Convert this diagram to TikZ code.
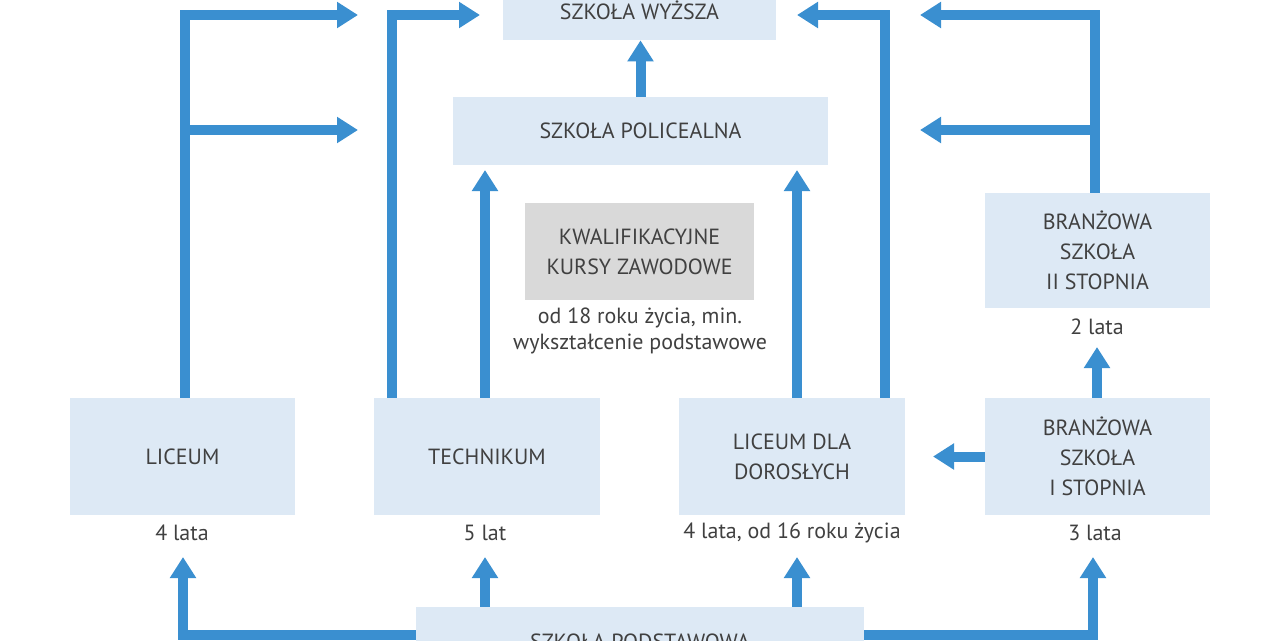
\documentclass[tikz,border=0pt]{standalone}
\usepackage{fontspec}
\setmainfont{PT Sans}
\usetikzlibrary{arrows.meta}
\definecolor{boxblue}{HTML}{DDE9F5}
\definecolor{boxgray}{HTML}{D9D9D9}
\definecolor{arrowblue}{HTML}{3A8FD0}
\definecolor{txt}{HTML}{404040}
\tikzset{
  box/.style={fill=boxblue, text=txt, align=center, font=\fontsize{12.5}{17}\selectfont},
  note/.style={text=txt, align=center, font=\fontsize{12.5}{15}\selectfont},
  flow/.style={draw=arrowblue, line width=0.2cm, -{Triangle[width=0.5cm,length=0.42cm]}}
}
\begin{document}
\begin{tikzpicture}[x=0.02cm, y=-0.02cm]
		\useasboundingbox (0, 0) rectangle (1280, 640);
		
		% szkoly
		\node[box, minimum width=273*0.02cm, minimum height=60*0.02cm] (wyzsza) at (639.5, 10) {SZKOŁA WYŻSZA};
		\node[box, minimum width=375*0.02cm, minimum height=68*0.02cm] (policealna) at (640.5, 131) {SZKOŁA POLICEALNA};
		\node[box, fill=boxgray, minimum width=229*0.02cm, minimum height=97*0.02cm] (kursy) at (639.5, 251.5) {KWALIFIKACYJNE\\KURSY ZAWODOWE};
		\node[box, minimum width=225*0.02cm, minimum height=115*0.02cm] (bran2) at (1097.5, 250.5) {BRANŻOWA\\SZKOŁA\\II STOPNIA};
		\node[box, minimum width=225*0.02cm, minimum height=117*0.02cm] (liceum) at (182.5, 456.5) {LICEUM};
		\node[box, minimum width=226*0.02cm, minimum height=117*0.02cm] (technikum) at (487, 456.5) {TECHNIKUM};
		\node[box, minimum width=226*0.02cm, minimum height=117*0.02cm] (dorosli) at (792, 456.5) {LICEUM DLA\\DOROSŁYCH};
		\node[box, minimum width=225*0.02cm, minimum height=117*0.02cm] (bran1) at (1097.5, 456.5) {BRANŻOWA\\SZKOŁA\\I STOPNIA};
		\node[box, minimum width=448*0.02cm, minimum height=70*0.02cm] (podstawowa) at (640, 642) {SZKOŁA PODSTAWOWA};
		
		% opisy
		\node[note] (kursyopis) at (640, 331) {od 18 roku życia, min.\\wykształcenie podstawowe};
		\node[note] (lat2) at (1097, 327) {2 lata};
		\node[note] (lat4) at (182, 533) {4 lata};
		\node[note] (lat5) at (485, 533) {5 lat};
		\node[note] (lat4d) at (792, 533) {4 lata, od 16 roku życia};
		\node[note] (lat3) at (1095, 533) {3 lata};
		
		% punkty
		\coordinate (w1) at (358, 15);
		\coordinate (w2) at (480, 15);
		\coordinate (w3) at (797, 15);
		\coordinate (w4) at (920, 15);
		\coordinate (p1) at (358, 130);
		\coordinate (p2) at (920, 130);
		\coordinate (l1) at (185, 130);
		\coordinate (b2) at (1095, 130);
		\coordinate (d1) at (183, 557);
		\coordinate (d2) at (485, 557);
		\coordinate (d3) at (797, 557);
		\coordinate (d4) at (1093, 557);
		\coordinate (s1) at (183, 635);
		\coordinate (s2) at (1093, 635);
		
		% strzalki
		\draw[flow] (policealna.north) -- (policealna.north |- wyzsza.south);
		\draw[flow] (liceum.north -| 185, 0) |- (w1);
		\draw[flow] (l1) -- (p1);
		\draw[flow] (technikum.north -| 392, 0) |- (w2);
		\draw[flow] (technikum.north -| 485, 0) -- (485, 170);
		\draw[flow] (dorosli.north -| 797, 0) -- (797, 170);
		\draw[flow] (dorosli.north -| 885, 0) |- (w3);
		\draw[flow] (bran2.north -| 1095, 0) |- (w4);
		\draw[flow] (b2) -- (p2);
		\draw[flow] (bran1.north -| 1097, 0) -- (1097, 347);
		\draw[flow] (bran1.west) -- (933, 456.5);
		\draw[flow] (podstawowa.west |- s1) -| (d1);
		\draw[flow] (podstawowa.east |- s2) -| (d4);
		\draw[flow] (podstawowa.north -| d2) -- (d2);
		\draw[flow] (podstawowa.north -| d3) -- (d3);
	\end{tikzpicture}
\end{document}
